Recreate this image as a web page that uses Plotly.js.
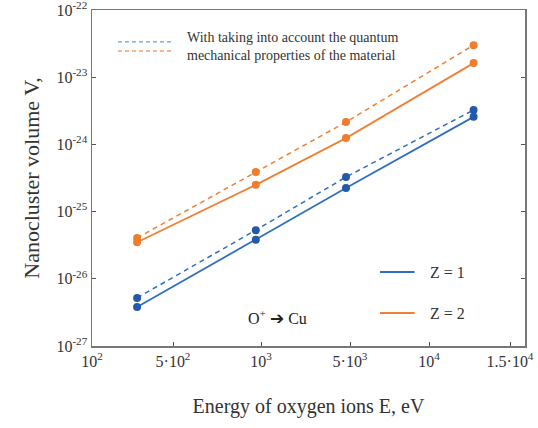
<!DOCTYPE html>
<html>
<head>
<meta charset="utf-8">
<script src="https://cdn.plot.ly/plotly-3.0.1.min.js"></script>
<style>html,body{margin:0;padding:0;background:#fff;}#chart{width:538px;height:428px;}</style>
</head>
<body>
<div id="chart"></div>
<script>
// ---- data ----
const energyEV = [245, 960, 4650, 12500];
const volZ1 = [3.8e-27, 3.8e-26, 2.24e-25, 2.57e-24];
const volZ1Quantum = [5.2e-27, 5.3e-26, 3.27e-25, 3.25e-24];
const volZ2 = [3.5e-26, 2.5e-25, 1.24e-24, 1.62e-23];
const volZ2Quantum = [4.05e-26, 3.9e-25, 2.15e-24, 3.0e-23];

const xTickEnergies = [100, 500, 1000, 5000, 10000, 15000];
const xTickLabels = ['10<sup>2</sup>', '5·10<sup>2</sup>', '10<sup>3</sup>', '5·10<sup>3</sup>', '10<sup>4</sup>', '1.5·10<sup>4</sup>'];
const yTickValues = [1e-27, 1e-26, 1e-25, 1e-24, 1e-23, 1e-22];
const yTickLabels = ['10<sup>-27</sup>', '10<sup>-26</sup>', '10<sup>-25</sup>', '10<sup>-24</sup>', '10<sup>-23</sup>', '10<sup>-22</sup>'];

// The original energy axis is drawn with unequal segments between labelled energies
const xAxisStops = [0, 81, 169, 258, 337, 418];
function energyToAxis(e) {
  for (let i = 0; i < xTickEnergies.length - 1; i++) {
    const a = xTickEnergies[i], b = xTickEnergies[i + 1];
    if (e <= b || i === xTickEnergies.length - 2) {
      const f = Math.log(e / a) / Math.log(b / a);
      return xAxisStops[i] + f * (xAxisStops[i + 1] - xAxisStops[i]);
    }
  }
}
const xs = energyEV.map(energyToAxis);

const blue = '#2f6fc1', blueMarker = '#2458a8';
const orange = '#f08035', orangeMarker = '#f07c2c';
const serif = 'Liberation Serif, Times New Roman, serif';

function trace(y, color, mcolor, dash, width) {
  return {
    x: xs, y: y, type: 'scatter', mode: 'lines+markers',
    line: {color: color, width: width, dash: dash},
    marker: {color: mcolor, size: 8, symbol: 'circle'},
    showlegend: false, hoverinfo: 'x+y', cliponaxis: false
  };
}

const data = [
  trace(volZ2Quantum, orange, orangeMarker, '5px,4px', 1.5),
  trace(volZ2, orange, orangeMarker, 'solid', 1.8),
  trace(volZ1Quantum, blue, blueMarker, '5px,4px', 1.5),
  trace(volZ1, blue, blueMarker, 'solid', 1.8)
];

const layout = {
  width: 538, height: 428,
  margin: {l: 92, r: 13, t: 10, b: 82},
  paper_bgcolor: '#fff', plot_bgcolor: '#fff',
  font: {family: serif, color: '#333'},
  xaxis: {
    type: 'linear', range: [0, 433],
    tickvals: xTickEnergies.map(energyToAxis), ticktext: xTickLabels,
    tickfont: {family: serif, size: 16, color: '#333'},
    ticklabeloverflow: 'allow',
    showgrid: false, zeroline: false,
    showline: true, linecolor: '#777', linewidth: 1.5, mirror: true,
    ticks: 'inside', ticklen: 4, tickcolor: '#555', tickwidth: 1,
    title: {text: 'Energy of oxygen ions E, eV', font: {family: serif, size: 20, color: '#333'}, standoff: 30}
  },
  yaxis: {
    type: 'log', range: [-27, -22],
    tickvals: yTickValues, ticktext: yTickLabels,
    tickfont: {family: serif, size: 16, color: '#333'},
    ticklabeloverflow: 'allow',
    showgrid: false, zeroline: false,
    showline: true, linecolor: '#777', linewidth: 1.5, mirror: 'ticks',
    ticks: 'inside', ticklen: 4, tickcolor: '#555', tickwidth: 1,
    title: {text: 'Nanocluster volume V,', font: {family: serif, size: 22, color: '#333'}, standoff: 10}
  },
  shapes: [
    {type: 'line', xref: 'paper', yref: 'paper', x0: 0.06, x1: 0.185, y0: 0.905, y1: 0.905, line: {color: '#6f9bd6', width: 1.3, dash: '4px,3px'}},
    {type: 'line', xref: 'paper', yref: 'paper', x0: 0.06, x1: 0.185, y0: 0.878, y1: 0.878, line: {color: '#f3a06a', width: 1.3, dash: '4px,3px'}},
    {type: 'line', xref: 'paper', yref: 'paper', x0: 0.665, x1: 0.745, y0: 0.22, y1: 0.22, line: {color: blue, width: 2}},
    {type: 'line', xref: 'paper', yref: 'paper', x0: 0.665, x1: 0.745, y0: 0.098, y1: 0.098, line: {color: orange, width: 2}}
  ],
  annotations: [
    {xref: 'paper', yref: 'paper', x: 0.215, y: 0.89, xanchor: 'left', yanchor: 'middle', showarrow: false, align: 'left',
     text: 'With taking into account the quantum<br>mechanical properties of the material', font: {family: serif, size: 14, color: '#333'}},
    {xref: 'paper', yref: 'paper', x: 0.775, y: 0.22, xanchor: 'left', yanchor: 'middle', showarrow: false,
     text: 'Z = 1', font: {family: serif, size: 16, color: '#333'}},
    {xref: 'paper', yref: 'paper', x: 0.775, y: 0.098, xanchor: 'left', yanchor: 'middle', showarrow: false,
     text: 'Z = 2', font: {family: serif, size: 16, color: '#333'}},
    {xref: 'paper', yref: 'paper', x: 0.355, y: 0.085, xanchor: 'left', yanchor: 'middle', showarrow: false,
     text: 'O<sup>+</sup> <span style="font-family:DejaVu Sans;font-size:17px">➔</span> Cu', font: {family: serif, size: 16, color: '#222'}}
  ]
};

Plotly.newPlot('chart', data, layout, {displayModeBar: false, staticPlot: true});
</script>
</body>
</html>
